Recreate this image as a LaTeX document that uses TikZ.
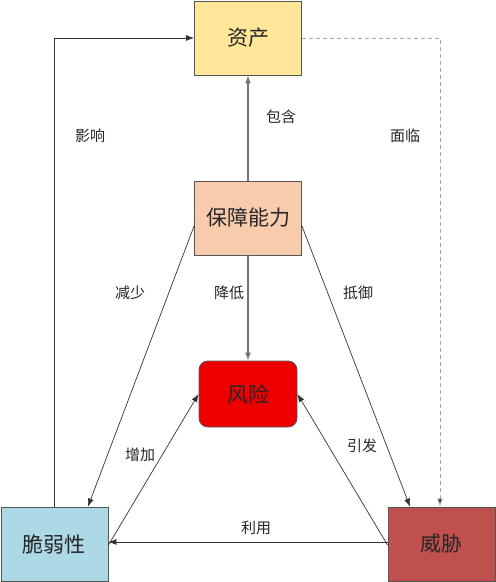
\documentclass[tikz,border=0pt]{standalone}
\usepackage{fontspec}
\newfontfamily\cjk{Noto Sans CJK SC}
\usetikzlibrary{arrows.meta,calc}
\definecolor{zcfill}{HTML}{FFE699}
\definecolor{bzfill}{HTML}{F8CBAD}
\definecolor{fxfill}{HTML}{EE0000}
\definecolor{crfill}{HTML}{ADD8E6}
\definecolor{wxfill}{HTML}{C0504D}
\definecolor{edge}{HTML}{333333}
\definecolor{border}{HTML}{555555}
\tikzset{
  box/.style={draw=border, line width=0.9pt, minimum width=107pt, minimum height=74pt, inner sep=0pt, font=\cjk\fontsize{21}{24}\selectfont, text=black!85},
  conn/.style={draw=edge, line width=0.7pt, -{Latex[length=8pt,width=6pt]}},
  grayconn/.style={draw=black!55, line width=1.2pt, -{Latex[length=8pt,width=6pt]}},
  dashconn/.style={draw=black!35, line width=0.8pt, dashed, dash pattern=on 4pt off 3pt, -{Latex[length=8pt,width=6pt,fill=black!80]}},
  lbl/.style={font=\cjk\fontsize{15}{17}\selectfont, text=black!85, inner sep=1pt}
}
\begin{document}
\begin{tikzpicture}[x=1pt,y=-1pt]
\useasboundingbox (0,0) rectangle (496,582);
\node[box, fill=zcfill] (zc) at (248,38) {资产};
\node[box, fill=bzfill] (bz) at (248,218) {保障能力};
\node[box, fill=fxfill, rounded corners=9pt, minimum width=98pt, minimum height=66pt] (fx) at (248,394) {风险};
\node[box, fill=crfill] (cr) at (54.5,544) {脆弱性};
\node[box, fill=wxfill] (wx) at (441.5,544) {威胁};

\draw[conn] (cr.north) |- (zc.west);
\draw[dashconn] (zc.east) -| ([xshift=-1.5pt]wx.north);
\draw[grayconn] (bz.north) -- (zc.south);
\draw[grayconn] (bz.south) -- (fx.north);
\draw[conn] ([yshift=-8pt]bz.west) -- ([xshift=33.5pt]cr.north);
\draw[conn] ([yshift=-8pt]bz.east) -- ([xshift=-31.5pt]wx.north);
\draw[conn] ([yshift=-1pt]cr.east) -- (fx.west);
\draw[conn] ([yshift=-1pt]wx.west) -- (fx.east);
\draw[conn] ([yshift=2pt]wx.west) -- ([yshift=2pt]cr.east);

\node[lbl] (l1) at (90,136) {影响};
\node[lbl] (l2) at (281,117) {包含};
\node[lbl] (l3) at (405,136) {面临};
\node[lbl] (l4) at (130,293) {减少};
\node[lbl] (l5) at (229,293) {降低};
\node[lbl] (l6) at (358,293) {抵御};
\node[lbl] (l7) at (140,455) {增加};
\node[lbl] (l8) at (362,446) {引发};
\node[lbl] (l9) at (256,528) {利用};
\end{tikzpicture}
\end{document}
